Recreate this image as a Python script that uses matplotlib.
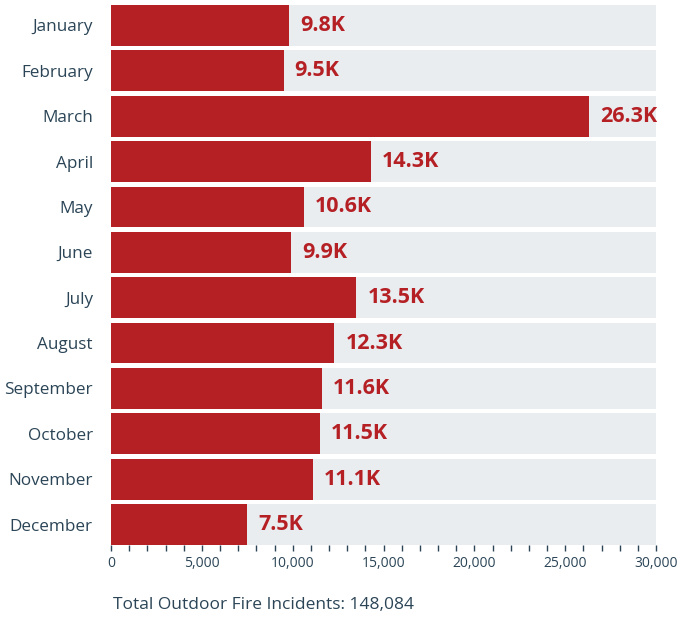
import matplotlib.pyplot as plt
from matplotlib.ticker import MultipleLocator, FuncFormatter

months = ['January', 'February', 'March', 'April', 'May', 'June', 'July',
          'August', 'September', 'October', 'November', 'December']
incidents = [9800, 9500, 26300, 14300, 10600, 9900, 13500, 12300, 11600, 11500, 11100, 7500]
x_max = 30000
total_label = 'Total Outdoor Fire Incidents: 148,084'

RED = '#b52025'
BG = '#eaedf0'
TEXT = '#2b4557'

plt.rcParams['font.family'] = ['Open Sans', 'DejaVu Sans']

fig = plt.figure(figsize=(6.82, 6.17), dpi=100)
ax = fig.add_axes([111 / 682, 1 - 545 / 617, 545 / 682, 540 / 617])

pos = list(range(len(months)))
ax.barh(pos, [x_max] * len(months), height=0.9, color=BG, zorder=1)
ax.barh(pos, incidents, height=0.9, color=RED, zorder=2)

for y, v in zip(pos, incidents):
    ax.annotate(f'{v / 1000:.1f}K', xy=(v, y), xytext=(8, 0), textcoords='offset points',
                ha='left', va='center', fontsize=15.5, fontweight='bold', color=RED, zorder=3)

ax.set_xlim(0, x_max)
ax.set_ylim(len(months) - 0.55, -0.45)
ax.set_yticks(pos)
ax.set_yticklabels(months, fontsize=12.3, color=TEXT)
ax.tick_params(axis='y', length=0, pad=13)

ax.xaxis.set_major_locator(MultipleLocator(5000))
ax.xaxis.set_minor_locator(MultipleLocator(1000))
ax.xaxis.set_major_formatter(FuncFormatter(lambda v, p: f'{int(v):,}'))
ax.tick_params(axis='x', which='both', length=4, width=1, color=TEXT, labelcolor=TEXT,
               labelsize=10, pad=4)

for s in ax.spines.values():
    s.set_visible(False)

fig.text(113 / 682, 1 - 605 / 617, total_label, fontsize=12.5, color=TEXT, va='center', ha='left')

fig.savefig('out.png', dpi=100)
